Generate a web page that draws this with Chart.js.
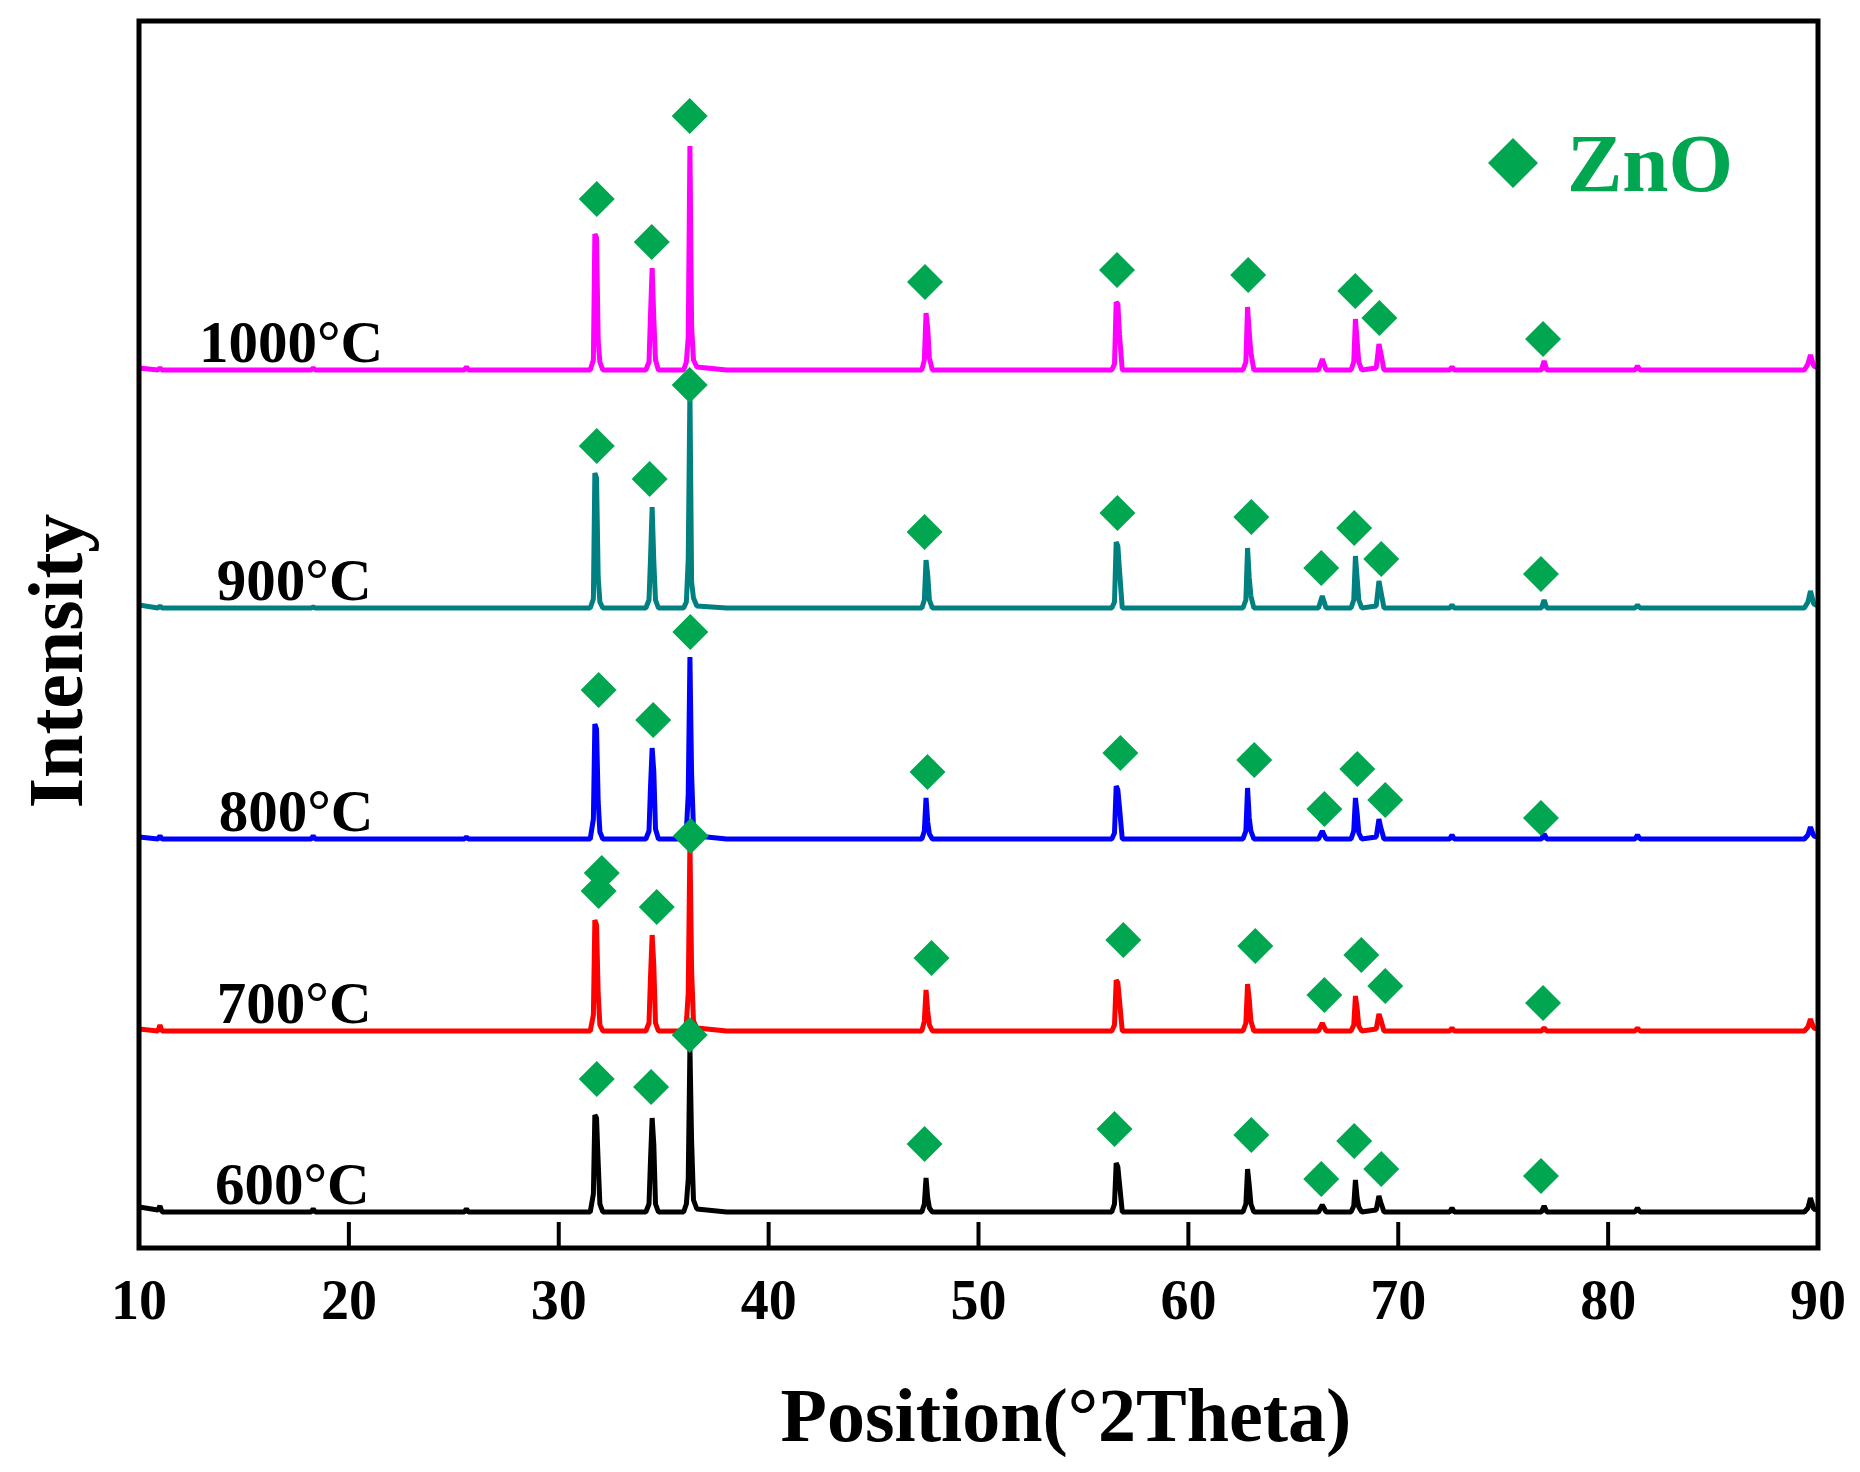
<!DOCTYPE html>
<html>
<head>
<meta charset="utf-8">
<title>XRD patterns of ZnO</title>
<script src="https://cdn.jsdelivr.net/npm/chart.js@4.4.1/dist/chart.umd.min.js"></script>
<style>
  html, body { margin: 0; padding: 0; background: #fff; }
  #wrap { width: 1860px; height: 1472px; }
</style>
</head>
<body>
<div id="wrap"><canvas id="xrd" width="1860" height="1472"></canvas></div>
<script>
// scan positions (degrees 2theta), shared by every pattern
const twoTheta = [
  10.00, 10.90, 11.00, 11.10, 18.20, 18.30, 18.40, 25.50, 25.60, 25.70, 30.00,
  31.50, 31.65, 31.72, 31.80, 31.88, 31.96, 32.10,
  34.15, 34.30, 34.37, 34.45, 34.53, 34.61, 34.75,
  35.95, 36.08, 36.17, 36.25, 36.33, 36.42, 36.58, 38.00,
  47.30, 47.42, 47.50, 47.58, 47.66, 47.80,
  56.35, 56.48, 56.56, 56.64, 56.72, 56.85,
  62.60, 62.74, 62.82, 62.90, 62.98, 63.12,
  66.20, 66.38, 66.56,
  67.75, 67.88, 67.96, 68.04, 68.12, 68.26,
  68.95, 69.08, 69.16, 69.32,
  72.45, 72.56, 72.67,
  76.82, 76.95, 77.08,
  81.28, 81.40, 81.52,
  89.35, 89.52, 89.64, 89.80, 90.00
];

// intensities (a.u.) above each pattern's own baseline
const i1000 = [2, 0, 2, 0, 0, 2, 0, 0, 3, 0, 0,
  0, 10, 136, 132, 29, 8, 0,
  0, 8, 54, 102, 51, 10, 0,
  0, 8, 33, 224, 44, 10, 3, 0,
  0, 10, 57, 42, 12, 0,
  0, 6, 68, 66, 35, 0,
  0, 8, 63, 38, 17, 0,
  0, 11, 0,
  0, 8, 51, 29, 8, 0,
  2, 26, 18, 0,
  0, 3, 0,
  0, 9, 0,
  0, 4, 0,
  0, 6, 15, 4, 2];
const i900 = [3, 0, 2, 0, 0, 1, 0, 0, 0, 0, 0,
  0, 9, 135, 130, 30, 6, 0,
  0, 8, 48, 101, 46, 8, 0,
  0, 6, 49, 218, 26, 10, 2, 0,
  0, 8, 48, 33, 8, 0,
  0, 6, 66, 62, 37, 0,
  0, 8, 60, 30, 12, 0,
  0, 12, 0,
  0, 8, 52, 30, 8, 0,
  2, 27, 18, 0,
  0, 3, 0,
  0, 8, 0,
  0, 3, 0,
  0, 6, 17, 4, 2];
const i800 = [2, 0, 3, 0, 0, 3, 0, 0, 2, 0, 0,
  0, 20, 115, 110, 37, 7, 0,
  0, 8, 51, 91, 67, 10, 0,
  0, 8, 45, 182, 65, 10, 3, 0,
  0, 8, 41, 17, 5, 0,
  0, 6, 53, 49, 31, 0,
  0, 8, 51, 21, 8, 0,
  0, 8, 0,
  0, 8, 41, 26, 6, 0,
  2, 20, 12, 0,
  0, 4, 0,
  0, 5, 0,
  0, 4, 0,
  0, 4, 12, 3, 2];
const i700 = [2, 0, 6, 0, 0, 0, 0, 0, 0, 0, 0,
  0, 16, 111, 106, 37, 6, 0,
  0, 8, 53, 96, 65, 8, 0,
  0, 8, 38, 190, 61, 10, 3, 0,
  0, 10, 41, 20, 6, 0,
  0, 6, 51, 48, 30, 0,
  0, 8, 47, 32, 10, 0,
  0, 8, 0,
  0, 6, 35, 23, 5, 0,
  2, 17, 12, 0,
  0, 3, 0,
  0, 3, 0,
  0, 3, 0,
  0, 4, 12, 3, 2];
const i600 = [5, 2, 6, 0, 0, 3, 0, 0, 3, 0, 0,
  0, 18, 97, 94, 49, 8, 0,
  0, 8, 51, 94, 67, 8, 0,
  0, 8, 33, 165, 71, 12, 3, 0,
  0, 8, 34, 14, 4, 0,
  0, 8, 49, 45, 28, 0,
  0, 8, 43, 27, 8, 0,
  0, 7, 0,
  0, 6, 32, 14, 5, 0,
  2, 16, 10, 0,
  0, 4, 0,
  0, 6, 0,
  0, 4, 0,
  0, 4, 14, 3, 2];

const temps = ["1000\u00b0C", "900\u00b0C", "800\u00b0C", "700\u00b0C", "600\u00b0C"];
const patterns = [i1000, i900, i800, i700, i600];
const offsets = [878, 640, 409, 217, 36];   // vertical stacking of the patterns

// ZnO reflections marked above each pattern (2theta, height above baseline)
const zno1000Theta = [31.81, 34.43, 36.24, 47.45, 56.60, 62.85, 67.95, 69.10, 76.90];
const zno1000Height = [171, 128, 254, 88, 100, 95, 79, 52, 31];
const zno900Theta = [31.81, 34.33, 36.24, 47.43, 56.62, 63.00, 66.33, 67.90, 69.19, 76.80];
const zno900Height = [162, 129, 223, 76, 95, 91, 40, 80, 49, 34];
const zno800Theta = [31.90, 34.50, 36.27, 47.57, 56.76, 63.14, 66.48, 68.05, 69.38, 76.80];
const zno800Height = [149, 119, 207, 67, 86, 79, 30, 70, 39, 21];
const zno700Theta = [32.05, 31.90, 34.67, 36.29, 47.76, 56.90, 63.19, 66.48, 68.24, 69.38, 76.90];
const zno700Height = [158, 140, 124, 195, 73, 91, 85, 36, 76, 45, 28];
const zno600Theta = [31.81, 34.40, 36.24, 47.43, 56.48, 63.00, 66.33, 67.90, 69.19, 76.80];
const zno600Height = [133, 125, 177, 68, 83, 77, 33, 71, 43, 36];

const xTicks = [10, 20, 30, 40, 50, 60, 70, 80, 90];

const colors = ["#ff00ff", "#008080", "#0000ff", "#ff0000", "#000000"];
const znoGreen = "#00a650";
const serif = '"Liberation Serif", "Times New Roman", serif';
const labelTheta = [12.86, 13.71, 13.80, 13.71, 13.62];

const znoTheta = [zno1000Theta, zno900Theta, zno800Theta, zno700Theta, zno600Theta];
const znoHeight = [zno1000Height, zno900Height, zno800Height, zno700Height, zno600Height];

const datasets = [];
patterns.forEach((vals, k) => {
    datasets.push({
        type: "line",
        label: temps[k],
        data: twoTheta.map((t, i) => ({ x: t, y: offsets[k] + vals[i] })),
        borderColor: colors[k],
        borderWidth: 5,
        borderJoinStyle: "bevel",
        pointRadius: 0,
        tension: 0,
        fill: false,
        order: 2
    });
});
datasets.push({
    type: "scatter",
    label: "ZnO",
    data: znoTheta.flatMap((ts, k) => ts.map((t, i) => ({ x: t, y: offsets[k] + znoHeight[k][i] }))),
    pointStyle: "rectRot",
    pointRadius: 18,
    pointBorderWidth: 0,
    backgroundColor: znoGreen,
    borderColor: znoGreen,
    order: 1
});

// frame, inward ticks, sample labels, legend and axis titles
const decor = {
    id: "decor",
    afterDraw(chart) {
        const { ctx, chartArea: a, scales: { x, y } } = chart;
        ctx.save();
        ctx.strokeStyle = "#000";
        ctx.lineWidth = 4;
        xTicks.forEach(v => {
            if (v <= 10 || v >= 90) return;
            const px = x.getPixelForValue(v);
            ctx.beginPath();
            ctx.moveTo(px, a.bottom);
            ctx.lineTo(px, a.bottom - 26);
            ctx.stroke();
        });
        ctx.lineWidth = 5;
        ctx.strokeRect(a.left, a.top, a.right - a.left, a.bottom - a.top);

        ctx.fillStyle = "#000";
        ctx.font = "bold 59px " + serif;
        ctx.textAlign = "left";
        ctx.textBaseline = "alphabetic";
        temps.forEach((t, k) => {
            ctx.fillText(t, x.getPixelForValue(labelTheta[k]), y.getPixelForValue(offsets[k] + 8));
        });

        // legend
        const lx = a.right - 305, ly = a.top + 142, r = 25;
        ctx.fillStyle = znoGreen;
        ctx.beginPath();
        ctx.moveTo(lx - r, ly);
        ctx.lineTo(lx, ly - r);
        ctx.lineTo(lx + r, ly);
        ctx.lineTo(lx, ly + r);
        ctx.closePath();
        ctx.fill();
        ctx.font = "bold 83px " + serif;
        ctx.fillText("ZnO", lx + 54, ly + 28);

        // axis titles
        ctx.fillStyle = "#000";
        ctx.font = "bold 76px " + serif;
        ctx.textAlign = "center";
        ctx.fillText("Position(\u00b02Theta)", 1066, 1441);
        ctx.save();
        ctx.translate(82, 661);
        ctx.rotate(-Math.PI / 2);
        ctx.font = "bold 78px " + serif;
        ctx.fillText("Intensity", 0, 0);
        ctx.restore();
        ctx.restore();
    }
};

new Chart(document.getElementById("xrd").getContext("2d"), {
    type: "line",
    data: { datasets: datasets },
    options: {
        responsive: false,
        devicePixelRatio: 1,
        animation: false,
        layout: { padding: { left: 139, right: 42, top: 21, bottom: 0 } },
        plugins: {
            legend: { display: false },
            tooltip: { enabled: false }
        },
        scales: {
            x: {
                type: "linear",
                min: 10,
                max: 90,
                afterBuildTicks: s => { s.ticks = xTicks.map(v => ({ value: v })); },
                afterFit: s => { s.height = 224; },
                ticks: {
                    padding: 12,
                    color: "#000",
                    font: { family: serif, size: 56, weight: "bold", lineHeight: 1.6 },
                    maxRotation: 0
                },
                grid: { display: false, drawTicks: false },
                border: { display: false }
            },
            y: { display: false, min: 0, max: 1227 }
        }
    },
    plugins: [decor]
});
</script>
</body>
</html>
